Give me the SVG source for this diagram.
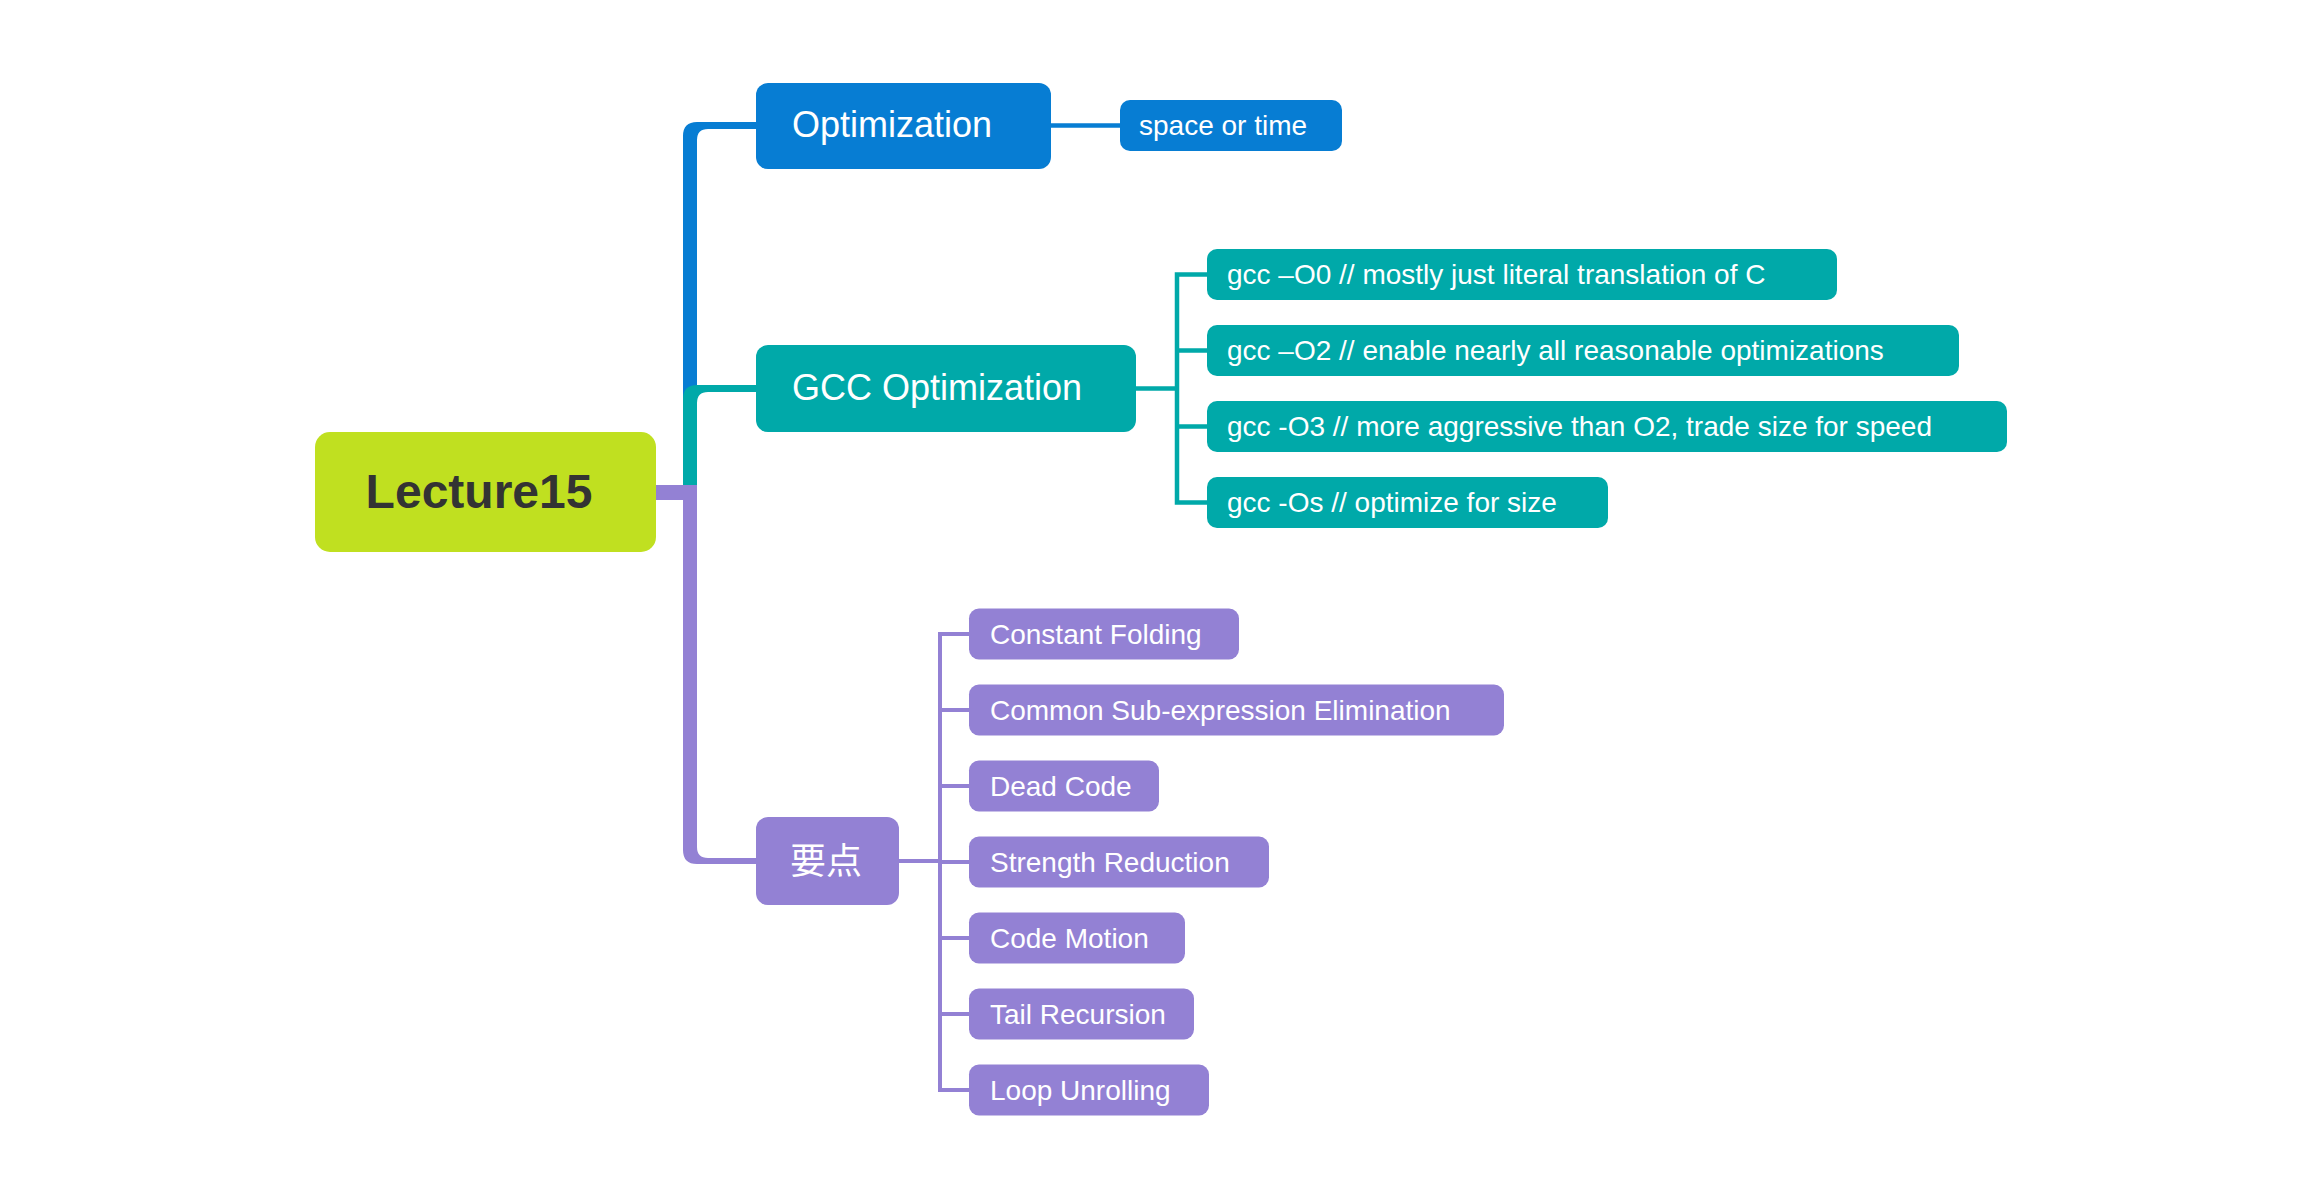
<svg xmlns="http://www.w3.org/2000/svg" width="2322" height="1196" viewBox="0 0 2322 1196">
<style>
.t{font-family:"Liberation Sans",Arial,"Noto Sans CJK SC",sans-serif;fill:#ffffff}
.s{font-size:28px}
.m{font-size:36px}
.blue{fill:#077dd3}
.teal{fill:#00a9a9}
.purple{fill:#9381d4}
.lb{stroke:#077dd3;stroke-width:4.5;fill:none}
.lt{stroke:#00a9a9;stroke-width:4.5;fill:none}
.lp{stroke:#9381d4;stroke-width:4;fill:none}
</style>
<rect width="2322" height="1196" fill="#ffffff"/>
<g id="connectors">
<path class="blue" d="M683 492 L683 136 Q683 122 697 122 L756 122 L756 129 L708 129 Q697 129 697 140 L697 492 Z"/>
<path class="teal" d="M683 492 L683 399 Q683 385 697 385 L756 385 L756 392 L708 392 Q697 392 697 403 L697 492 Z"/>
<path class="purple" d="M654 485 L697 485 L697 847 Q697 858 708 858 L756 858 L756 864 L697 864 Q683 864 683 850 L683 500 L654 500 Z"/>
<line class="lb" x1="1049" y1="125.5" x2="1121" y2="125.5"/>
<path class="lt" d="M1136 388.5 H1177"/>
<path class="lt" d="M1209 274.5 H1177 V502.5 H1209"/>
<path class="lt" d="M1177 350.5 H1209 M1177 426.5 H1209"/>
<path class="lp" d="M898 861 H940"/>
<path class="lp" d="M971 634 H940 V1090 H971"/>
<path class="lp" d="M940 710 H971 M940 786 H971 M940 862 H971 M940 938 H971 M940 1014 H971"/>
</g>
<g id="root">
<rect x="315" y="432" width="341" height="120" rx="15" fill="#c0e020"/>
<text x="479" y="508" text-anchor="middle" font-family="Liberation Sans,Arial,sans-serif" font-weight="bold" font-size="48" fill="#333333">Lecture15</text>
</g>
<g id="optimization">
<rect class="blue" x="756" y="83" width="295" height="86" rx="12"/>
<text class="t m" x="792" y="137">Optimization</text>
</g>
<g id="space-or-time">
<rect class="blue" x="1120" y="100" width="222" height="51" rx="10"/>
<text class="t s" x="1139" y="135">space or time</text>
</g>
<g id="gcc-optimization">
<rect class="teal" x="756" y="345" width="380" height="87" rx="12"/>
<text class="t m" x="792" y="400">GCC Optimization</text>
</g>
<g id="gcc-o0">
<rect class="teal" x="1207" y="249" width="630" height="51" rx="10"/>
<text class="t s" x="1227" y="284">gcc –O0 // mostly just literal translation of C</text>
</g>
<g id="gcc-o2">
<rect class="teal" x="1207" y="325" width="752" height="51" rx="10"/>
<text class="t s" x="1227" y="360">gcc –O2 // enable nearly all reasonable optimizations</text>
</g>
<g id="gcc-o3">
<rect class="teal" x="1207" y="401" width="800" height="51" rx="10"/>
<text class="t s" x="1227" y="436">gcc -O3 // more aggressive than O2, trade size for speed</text>
</g>
<g id="gcc-os">
<rect class="teal" x="1207" y="477" width="401" height="51" rx="10"/>
<text class="t s" x="1227" y="512">gcc -Os // optimize for size</text>
</g>
<g id="yaodian">
<rect class="purple" x="756" y="817" width="143" height="88" rx="12"/>
<text class="t m" x="790" y="874" font-family="Noto Sans CJK SC,sans-serif">要点</text>
</g>
<g id="constant-folding">
<rect class="purple" x="969" y="608.5" width="270" height="51" rx="10"/>
<text class="t s" x="990" y="643.5">Constant Folding</text>
</g>
<g id="cse">
<rect class="purple" x="969" y="684.5" width="535" height="51" rx="10"/>
<text class="t s" x="990" y="719.5">Common Sub-expression Elimination</text>
</g>
<g id="dead-code">
<rect class="purple" x="969" y="760.5" width="190" height="51" rx="10"/>
<text class="t s" x="990" y="795.5">Dead Code</text>
</g>
<g id="strength-reduction">
<rect class="purple" x="969" y="836.5" width="300" height="51" rx="10"/>
<text class="t s" x="990" y="871.5">Strength Reduction</text>
</g>
<g id="code-motion">
<rect class="purple" x="969" y="912.5" width="216" height="51" rx="10"/>
<text class="t s" x="990" y="947.5">Code Motion</text>
</g>
<g id="tail-recursion">
<rect class="purple" x="969" y="988.5" width="225" height="51" rx="10"/>
<text class="t s" x="990" y="1023.5">Tail Recursion</text>
</g>
<g id="loop-unrolling">
<rect class="purple" x="969" y="1064.5" width="240" height="51" rx="10"/>
<text class="t s" x="990" y="1099.5">Loop Unrolling</text>
</g>
</svg>
